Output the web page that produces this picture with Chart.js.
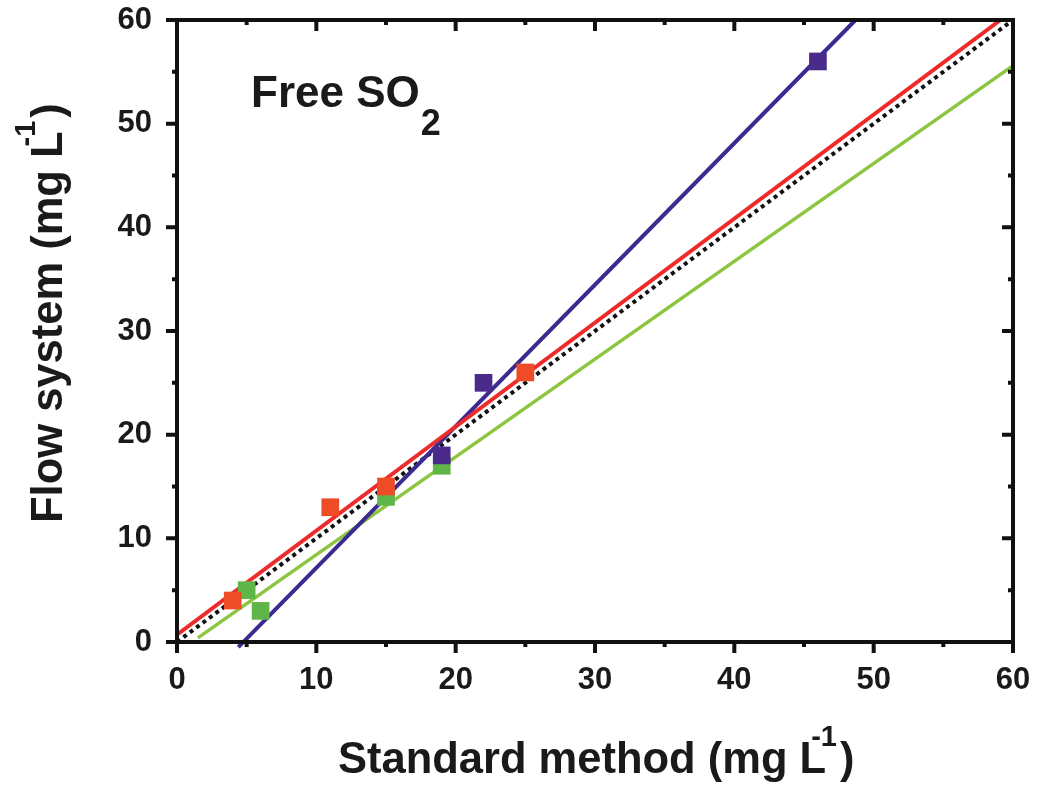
<!DOCTYPE html>
<html>
<head>
<meta charset="utf-8">
<script src="https://cdn.jsdelivr.net/npm/chart.js@4"></script>
<style>
  html, body { margin: 0; padding: 0; background: #fff; }
  #wrap { width: 1043px; height: 789px; }
</style>
</head>
<body>
<div id="wrap"><canvas id="so2-chart"></canvas></div>
<script>
// points (standard method vs flow system)
const redX = [4, 11, 15, 25];
const redY = [4, 13, 15, 26];
const greenX = [5, 6, 15, 19];
const greenY = [5, 3, 14, 17];
const purpleX = [19, 22, 46];
const purpleY = [18, 25, 56];

// regression lines, end points
const redFitX = [0, 59.1];
const redFitY = [0.7, 60];
const greenFitX = [1.5, 60];
const greenFitY = [0.4, 55.6];
const purpleFitX = [4.4, 48.7];
const purpleFitY = [-0.5, 60];
const idealX = [0, 60];
const idealY = [0, 60];

const axisTicks = [0, 10, 20, 30, 40, 50, 60];

const FONT = '"Liberation Sans", Arial, Helvetica, sans-serif';
const INK = '#1a1a1a';

function pts(xs, ys) {
    return xs.map((x, i) => ({ x: x, y: ys[i] }));
}

// frame + inward/outward ticks
const framePlugin = {
    id: 'frame',
    afterDatasetsDraw(chart) {
        const ctx = chart.ctx;
        const a = chart.chartArea;
        const xs = chart.scales.x, ys = chart.scales.y;
        ctx.save();
        ctx.strokeStyle = '#111';
        ctx.lineWidth = 4;
        ctx.lineCap = 'butt';
        ctx.strokeRect(a.left, a.top, a.right - a.left, a.bottom - a.top);
        for (let v = 0; v <= 60; v += 5) {
            const len = v % 10 === 0 ? 11 : 5;
            const px = xs.getPixelForValue(v);
            const py = ys.getPixelForValue(v);
            ctx.beginPath();
            // bottom: out
            ctx.moveTo(px, a.bottom); ctx.lineTo(px, a.bottom + len);
            // top: in
            ctx.moveTo(px, a.top); ctx.lineTo(px, a.top + len);
            // left: out
            ctx.moveTo(a.left, py); ctx.lineTo(a.left - len, py);
            // right: in
            ctx.moveTo(a.right, py); ctx.lineTo(a.right - len, py);
            ctx.stroke();
        }
        ctx.restore();
    },
    afterDraw(chart) {
        const ctx = chart.ctx;
        ctx.save();
        ctx.fillStyle = INK;
        ctx.textBaseline = 'alphabetic';
        ctx.textAlign = 'left';

        // Free SO2 label
        ctx.font = 'bold 44px ' + FONT;
        ctx.fillText('Free SO', 251, 107);
        let w = ctx.measureText('Free SO').width;
        ctx.font = 'bold 36px ' + FONT;
        ctx.fillText('2', 251 + w + 1, 135);

        // x title
        drawUnitTitle(ctx, 'Standard method (mg L', 338, 773);

        // y title (rotated)
        ctx.save();
        ctx.translate(62, 523);
        ctx.rotate(-Math.PI / 2);
        drawUnitTitle(ctx, 'Flow system (mg L', 0, 0);
        ctx.restore();

        ctx.restore();
    }
};

function drawUnitTitle(ctx, main, x, y) {
    ctx.font = 'bold 43.5px ' + FONT;
    ctx.fillText(main, x, y);
    let w = ctx.measureText(main).width;
    ctx.font = 'bold 29px ' + FONT;
    ctx.fillText('-1', x + w - 15, y - 27);
    let w2 = ctx.measureText('-1').width;
    ctx.font = 'bold 43.5px ' + FONT;
    ctx.fillText(')', x + w - 15 + w2 + 3, y);
}

document.addEventListener('DOMContentLoaded', function() {
    const ctx = document.getElementById('so2-chart').getContext('2d');
    new Chart(ctx, {
        type: 'scatter',
        data: {
            datasets: [
                {
                    label: 'red points',
                    data: pts(redX, redY),
                    pointStyle: 'rect',
                    pointRadius: 12.5,
                    backgroundColor: '#ee4b27',
                    borderWidth: 0,
                    order: 1
                },
                {
                    label: 'green points',
                    data: pts(greenX, greenY),
                    pointStyle: 'rect',
                    pointRadius: 12.5,
                    backgroundColor: '#5fb648',
                    borderWidth: 0,
                    order: 2
                },
                {
                    label: 'purple points',
                    data: pts(purpleX, purpleY),
                    pointStyle: 'rect',
                    pointRadius: 12.5,
                    backgroundColor: '#4a2b8b',
                    borderWidth: 0,
                    order: 0
                },
                {
                    label: 'y = x',
                    data: pts(idealX, idealY),
                    showLine: true,
                    pointRadius: 0,
                    borderColor: '#111',
                    borderWidth: 4,
                    borderDash: [4, 4],
                    order: 4
                },
                {
                    label: 'red fit',
                    data: pts(redFitX, redFitY),
                    showLine: true,
                    pointRadius: 0,
                    borderColor: '#ee2b2b',
                    borderWidth: 4,
                    order: 3
                },
                {
                    label: 'green fit',
                    data: pts(greenFitX, greenFitY),
                    showLine: true,
                    pointRadius: 0,
                    borderColor: '#8cc640',
                    borderWidth: 3.5,
                    order: 5
                },
                {
                    label: 'purple fit',
                    data: pts(purpleFitX, purpleFitY),
                    showLine: true,
                    pointRadius: 0,
                    borderColor: '#3b2a90',
                    borderWidth: 4,
                    clip: false,
                    order: 3
                }
            ]
        },
        options: {
            responsive: true,
            maintainAspectRatio: false,
            animation: false,
            layout: {
                padding: { left: 0, top: 20, right: 30, bottom: 0 }
            },
            scales: {
                x: {
                    type: 'linear',
                    min: 0,
                    max: 60,
                    afterFit: function(scale) {
                        scale.height = 147;
                        scale.paddingLeft = 0;
                        scale.paddingRight = 0;
                    },
                    afterBuildTicks: function(scale) {
                        scale.ticks = axisTicks.map(v => ({ value: v }));
                    },
                    grid: { display: false, drawTicks: false },
                    border: { display: false },
                    ticks: {
                        padding: 20,
                        color: INK,
                        font: { family: FONT, size: 31, weight: 'bold' }
                    }
                },
                y: {
                    type: 'linear',
                    min: 0,
                    max: 60,
                    afterFit: function(scale) {
                        scale.width = 177;
                        scale.paddingTop = 0;
                        scale.paddingBottom = 0;
                    },
                    afterBuildTicks: function(scale) {
                        scale.ticks = axisTicks.map(v => ({ value: v }));
                    },
                    grid: { display: false, drawTicks: false },
                    border: { display: false },
                    ticks: {
                        padding: 25,
                        color: INK,
                        font: { family: FONT, size: 31, weight: 'bold' }
                    }
                }
            },
            plugins: {
                legend: { display: false },
                tooltip: { enabled: false }
            }
        },
        plugins: [framePlugin]
    });
});
</script>
</body>
</html>
